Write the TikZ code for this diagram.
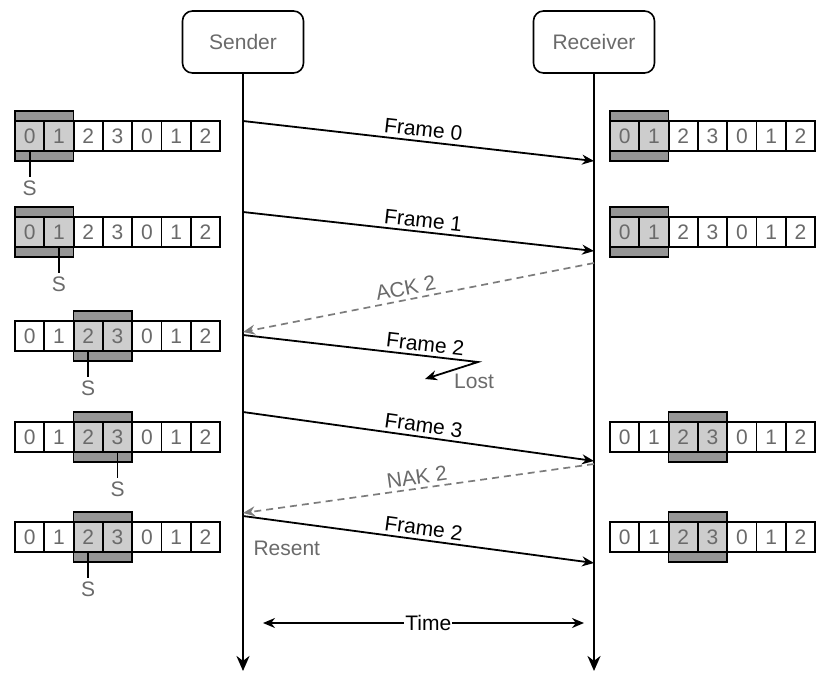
\documentclass[tikz,border=0pt]{standalone}
\usepackage{fontspec}
\setmainfont{Liberation Sans}
\usetikzlibrary{arrows.meta}
\definecolor{txtgray}{HTML}{6A6A6A}
\definecolor{wingray}{HTML}{959595}
\definecolor{cellgray}{HTML}{CDCDCD}
\definecolor{dashgray}{HTML}{7C7C7C}

\newcommand\seqrow[5]{% #1 name, #2 x0, #3 y centre, #4 window start, #5 S index (-1: none)
  \draw[win] (#2+#4*29.3, #3-25) rectangle (#2+#4*29.3+58.6, #3+25);
  \foreach \d [count=\i from 0] in {0,1,2,3,0,1,2} {
    \pgfmathtruncatemacro\inwin{and(\i>=#4,\i<=#4+1)}
    \ifnum\inwin=1 \def\cellfill{cellgray}\else\def\cellfill{white}\fi
    \node[cell, fill=\cellfill] (#1-\i) at (#2+14.65+\i*29.3, #3) {\d};
  }
  \ifnum#5>-1
    \node[text=txtgray, inner sep=3pt] (#1-S) at (#2+14.65+#5*29.3, #3+52) {S};
    \draw[line width=1.7pt] (#1-#5.south) -- (#1-S.north);
  \fi
}

\begin{document}
\begin{tikzpicture}[x=1pt,y=-1pt,
  font=\fontsize{21}{25}\selectfont,
  actor/.style={draw, line width=1.6pt, rounded corners=10pt, minimum width=121pt, minimum height=62pt, text=txtgray},
  life/.style={line width=2.6pt, -{Stealth[length=15pt,width=13pt]}},
  msg/.style={line width=1.8pt, -{Stealth[length=12pt,width=10pt]}},
  reply/.style={line width=1.7pt, draw=dashgray, dash pattern=on 7pt off 5pt, -{Stealth[length=12pt,width=10pt]}},
  lbl/.style={sloped, above, inner sep=3.5pt},
  glbl/.style={text=txtgray},
  cell/.style={draw, line width=1.8pt, minimum width=29.3pt, minimum height=30pt, inner sep=0pt, text=txtgray},
  win/.style={draw, line width=1.6pt, fill=wingray},
  timearrow/.style={line width=1.6pt, {Stealth[length=12pt,width=10pt]}-{Stealth[length=12pt,width=10pt]}},
]
\useasboundingbox (0,0) rectangle (816,672);

% actors and lifelines
\node[actor] (sender) at (243,42) {Sender};
\node[actor] (receiver) at (594,42) {Receiver};
\coordinate (sendEnd) at (243,671);
\coordinate (recvEnd) at (594,671);
\draw[life] (sender) -- (sendEnd);
\draw[life] (receiver) -- (recvEnd);

% sequence rows, sender side
\seqrow{L1}{15}{136}{0}{0}
\seqrow{L2}{15}{232}{0}{1}
\seqrow{L3}{15}{336}{2}{2}
\seqrow{L4}{15}{437}{2}{3}
\seqrow{L5}{15}{537}{2}{2}
% receiver side
\seqrow{R1}{610}{136}{0}{-1}
\seqrow{R2}{610}{232}{0}{-1}
\seqrow{R4}{610}{437}{2}{-1}
\seqrow{R5}{610}{537}{2}{-1}

% message end points
\coordinate (s0) at (243,121);  \coordinate (r0) at (594,161);
\coordinate (s1) at (243,212);  \coordinate (r1) at (594,251);
\coordinate (ra) at (594,263);  \coordinate (sa) at (243,332);
\coordinate (s2) at (243,335);  \coordinate (lb) at (478,362); \coordinate (le) at (425,379);
\coordinate (s3) at (243,412);  \coordinate (r3) at (594,461);
\coordinate (rn) at (594,464);  \coordinate (sn) at (243,513);
\coordinate (s4) at (243,516);  \coordinate (r4) at (594,563);

\draw[msg] (s0) -- node[lbl, pos=0.51] {Frame 0} (r0);
\draw[msg] (s1) -- node[lbl, pos=0.51] {Frame 1} (r1);
\draw[reply] (ra) -- node[lbl, pos=0.53, text=txtgray] {ACK 2} (sa);
\draw[msg] (s2) -- node[lbl, pos=0.77] {Frame 2} (lb) -- (le);
\node[glbl] (lost) at (474,381) {Lost};
\draw[msg] (s3) -- node[lbl, pos=0.51] {Frame 3} (r3);
\draw[reply] (rn) -- node[lbl, pos=0.5, text=txtgray] {NAK 2} (sn);
\draw[msg] (s4) -- node[lbl, pos=0.51] {Frame 2} (r4);
\node[glbl, anchor=west] (resent) at (250,548) {Resent};

% time axis
\coordinate (t1) at (263,623);
\coordinate (t2) at (584,623);
\draw[timearrow] (t1) -- node[fill=white, inner sep=1pt, pos=0.515] {Time} (t2);
\end{tikzpicture}
\end{document}
